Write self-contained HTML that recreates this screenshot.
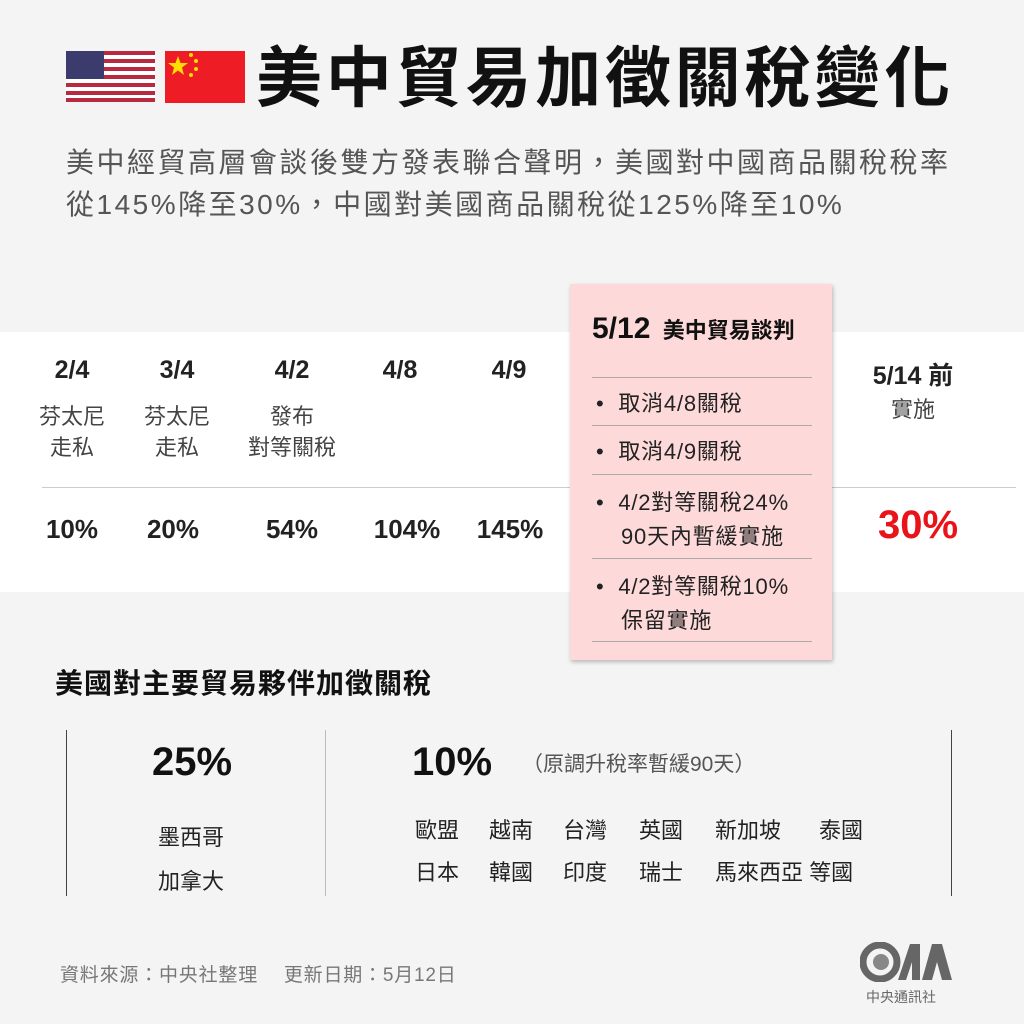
<!DOCTYPE html>
<html><head><meta charset="utf-8"><style>
*{margin:0;padding:0;box-sizing:border-box}
body{width:1024px;height:1024px;background:#f4f4f4;position:relative;overflow:hidden;font-family:"Liberation Sans","Noto Sans CJK TC",sans-serif;color:#222}
.a{position:absolute;white-space:nowrap}
.c{text-align:center}
.hl{position:absolute;height:1px;background:#aaa}
</style></head><body>
<svg class="a" style="left:66px;top:51px" width="89" height="51" viewBox="0 0 89 51">
<rect width="89" height="51" fill="#fff"/>
<g fill="#b82a3e"><rect y="0" width="89" height="4"/><rect y="8" width="89" height="4"/><rect y="16" width="89" height="4"/><rect y="24" width="89" height="4"/><rect y="32" width="89" height="4"/><rect y="40" width="89" height="4"/><rect y="47" width="89" height="4"/></g>
<rect width="38" height="28" fill="#3c3b6e"/>
</svg>
<svg class="a" style="left:165px;top:51px" width="80" height="52" viewBox="0 0 80 52">
<rect width="80" height="52" fill="#ee1c25"/>
<polygon points="13,5 15.5,12 23,12 17,16.5 19,24 13,19.5 7,24 9,16.5 3,12 10.5,12" fill="#ffde00"/>
<circle cx="26" cy="4" r="2" fill="#ffde00"/><circle cx="31" cy="10" r="2" fill="#ffde00"/><circle cx="31" cy="18" r="2" fill="#ffde00"/><circle cx="26" cy="24" r="2" fill="#ffde00"/>
</svg>
<div class="a" style="left:256px;top:40px;font-size:66px;font-weight:bold;color:#111;line-height:76px;letter-spacing:3.8px">美中貿易加徵關稅變化</div>
<div class="a" style="left:66px;top:142px;font-size:28px;color:#555;line-height:42px;letter-spacing:2.5px">美中經貿高層會談後雙方發表聯合聲明，美國對中國商品關稅稅率<br>從145%降至30%，中國對美國商品關稅從125%降至10%</div>

<div class="a" style="left:0;top:332px;width:1024px;height:260px;background:#fff"></div>
<div class="hl" style="left:42px;top:487px;width:974px;background:#ccc"></div>

<div class="a c" style="left:22px;top:356px;width:100px;font-size:25px;font-weight:bold">2/4</div>
<div class="a c" style="left:127px;top:356px;width:100px;font-size:25px;font-weight:bold">3/4</div>
<div class="a c" style="left:242px;top:356px;width:100px;font-size:25px;font-weight:bold">4/2</div>
<div class="a c" style="left:350px;top:356px;width:100px;font-size:25px;font-weight:bold">4/8</div>
<div class="a c" style="left:459px;top:356px;width:100px;font-size:25px;font-weight:bold">4/9</div>
<div class="a c" style="left:853px;top:356px;width:120px;font-size:25px;font-weight:bold">5/14 前</div>
<div class="a c" style="left:22px;top:401px;width:100px;font-size:22px;color:#444;line-height:31px">芬太尼<br>走私</div>
<div class="a c" style="left:127px;top:401px;width:100px;font-size:22px;color:#444;line-height:31px">芬太尼<br>走私</div>
<div class="a c" style="left:232px;top:401px;width:120px;font-size:22px;color:#444;line-height:31px">發布<br>對等關稅</div>
<div class="a c" style="left:853px;top:392px;width:120px;font-size:22px;color:#444">實施</div>
<div class="a c" style="left:22px;top:514px;width:100px;font-size:26px;font-weight:bold">10%</div>
<div class="a c" style="left:123px;top:514px;width:100px;font-size:26px;font-weight:bold">20%</div>
<div class="a c" style="left:242px;top:514px;width:100px;font-size:26px;font-weight:bold">54%</div>
<div class="a c" style="left:357px;top:514px;width:100px;font-size:26px;font-weight:bold">104%</div>
<div class="a c" style="left:460px;top:514px;width:100px;font-size:26px;font-weight:bold">145%</div>
<div class="a c" style="left:858px;top:503px;width:120px;font-size:40px;font-weight:bold;color:#e8141a">30%</div>

<div class="a" style="left:570px;top:284px;width:262px;height:376px;background:#fdd9d9;box-shadow:1px 2px 4px rgba(0,0,0,0.25)"></div>
<div class="a" style="left:592px;top:312px;font-size:30px;font-weight:bold;color:#111">5/12 <span style="font-size:22px;margin-left:4px">美中貿易談判</span></div>
<div class="hl" style="left:592px;top:377px;width:220px"></div>
<div class="hl" style="left:592px;top:425px;width:220px"></div>
<div class="hl" style="left:592px;top:474px;width:220px"></div>
<div class="hl" style="left:592px;top:558px;width:220px"></div>
<div class="hl" style="left:592px;top:641px;width:220px"></div>
<div class="a" style="left:596px;top:389px;font-size:22px;line-height:30px;letter-spacing:0.8px">•&nbsp; 取消4/8關稅</div>
<div class="a" style="left:596px;top:437px;font-size:22px;line-height:30px;letter-spacing:0.8px">•&nbsp; 取消4/9關稅</div>
<div class="a" style="left:596px;top:486px;font-size:22px;line-height:34px;letter-spacing:0.8px">•&nbsp; 4/2對等關稅24%<br><span style="margin-left:25px">90天內暫緩實施</span></div>
<div class="a" style="left:596px;top:570px;font-size:22px;line-height:34px;letter-spacing:0.8px">•&nbsp; 4/2對等關稅10%<br><span style="margin-left:25px">保留實施</span></div>

<div class="a" style="left:55px;top:662px;font-size:28px;font-weight:bold;color:#111;letter-spacing:1px">美國對主要貿易夥伴加徵關稅</div>
<div class="a" style="left:66px;top:730px;width:1px;height:166px;background:#444"></div>
<div class="a" style="left:325px;top:730px;width:1px;height:166px;background:#bbb"></div>
<div class="a" style="left:951px;top:730px;width:1px;height:166px;background:#444"></div>
<div class="a" style="left:152px;top:740px;font-size:40px;font-weight:bold;color:#111">25%</div>
<div class="a" style="left:158px;top:816px;font-size:22px;line-height:44px">墨西哥<br>加拿大</div>
<div class="a" style="left:412px;top:740px;font-size:40px;font-weight:bold;color:#111">10%</div>
<div class="a" style="left:522px;top:748px;font-size:21px;color:#555">（原調升稅率暫緩90天）</div>
<div class="a" style="left:415px;top:810px;font-size:22px;line-height:42px;word-spacing:0">
<span style="display:inline-block;width:74px">歐盟</span><span style="display:inline-block;width:74px">越南</span><span style="display:inline-block;width:76px">台灣</span><span style="display:inline-block;width:76px">英國</span><span style="display:inline-block;width:104px">新加坡</span>泰國<br>
<span style="display:inline-block;width:74px">日本</span><span style="display:inline-block;width:74px">韓國</span><span style="display:inline-block;width:76px">印度</span><span style="display:inline-block;width:76px">瑞士</span>馬來西亞 等國</div>

<div class="a" style="left:60px;top:960px;font-size:19px;color:#777;letter-spacing:0.8px">資料來源：中央社整理　 更新日期：5月12日</div>
<svg class="a" style="left:860px;top:942px" width="92" height="40" viewBox="0 0 92 40">
<circle cx="20" cy="20" r="17" fill="none" stroke="#666" stroke-width="7"/>
<circle cx="21" cy="20" r="8" fill="#888"/>
<polygon points="38,38 50,2 60,2 60,38 52,38 52,20 46,38" fill="#666"/>
<polygon points="62,38 72,2 82,2 92,38 82,38 77,20 72,38" fill="#666"/>
</svg>
<div class="a" style="left:866px;top:987px;font-size:14px;color:#666">中央通訊社</div>
</body></html>
